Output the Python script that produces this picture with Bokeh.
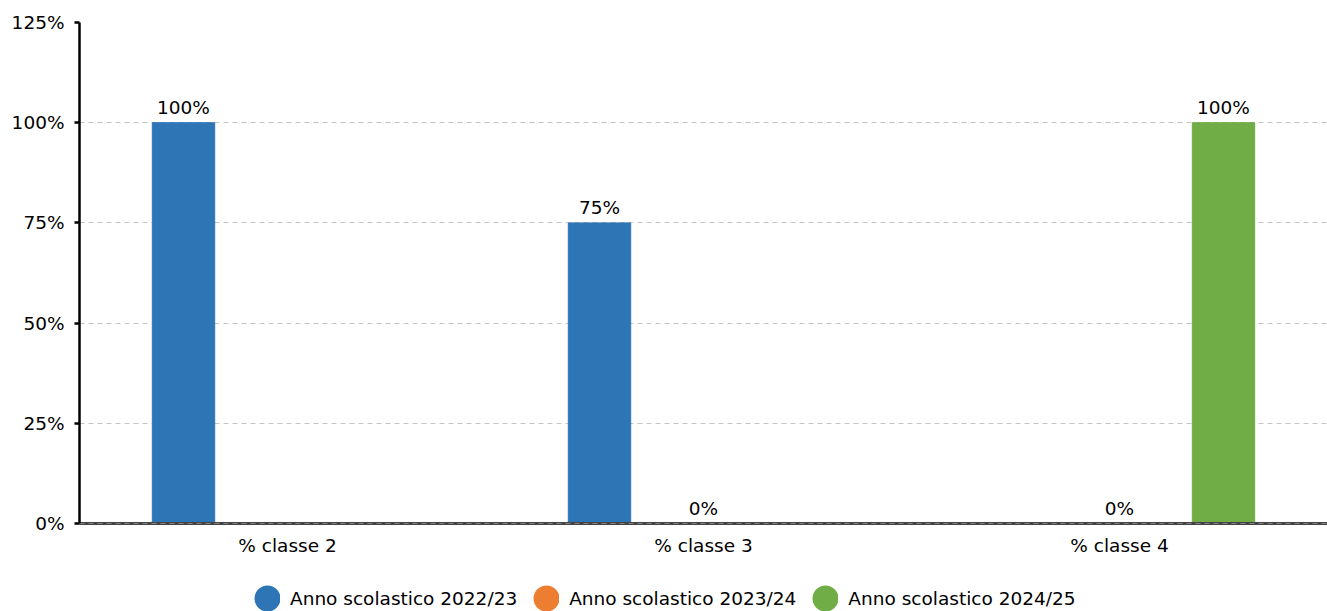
from bokeh.plotting import figure
from bokeh.layouts import column
from bokeh.models import (ColumnDataSource, FactorRange, Range1d, FixedTicker,
                          PrintfTickFormatter, LabelSet, Legend, LegendItem, Span)
from bokeh.core.properties import value
from bokeh.transform import dodge
from bokeh.embed import file_html
from bokeh.resources import INLINE

# ---- data -------------------------------------------------------------
categories = ["% classe 2", "% classe 3", "% classe 4"]
series_names = ["Anno scolastico 2022/23", "Anno scolastico 2023/24", "Anno scolastico 2024/25"]
values_2022_23 = [100, 75, None]
values_2023_24 = [None, 0, 0]
values_2024_25 = [None, None, 100]
series_colors = ["#2E75B6", "#ED7D31", "#70AD47"]
y_ticks = [0, 25, 50, 75, 100, 125]

series_values = [values_2022_23, values_2023_24, values_2024_25]
offsets = [-0.25, 0.0, 0.25]
BAR_WIDTH = 0.15

FONT = "DejaVu Sans"
FONT_SIZE = "18.5px"

p = figure(
    x_range=FactorRange(factors=categories),
    y_range=Range1d(0, 125),
    width=1327, height=566,
    output_backend="svg", toolbar_location=None,
    min_border_left=79, min_border_right=0, min_border_top=22, min_border_bottom=43,
    outline_line_color=None,
)

# axes
p.yaxis.ticker = FixedTicker(ticks=y_ticks)
p.yaxis.formatter = PrintfTickFormatter(format="%d%%")
p.yaxis.axis_line_color = "black"
p.yaxis.axis_line_width = 2.5
p.yaxis.major_tick_line_color = "black"
p.yaxis.major_tick_line_width = 2.5
p.yaxis.major_tick_out = 5
p.yaxis.major_tick_in = 0
p.yaxis.minor_tick_line_color = None
p.yaxis.major_label_standoff = 10
p.yaxis.major_label_text_font = FONT
p.yaxis.major_label_text_font_size = FONT_SIZE
p.yaxis.major_label_text_color = "black"

p.xaxis.axis_line_color = "#444444"
p.xaxis.axis_line_width = 3
p.xaxis.major_tick_line_color = None
p.xaxis.major_tick_out = 0
p.xaxis.major_tick_in = 0
p.xaxis.minor_tick_line_color = None
p.xaxis.major_label_standoff = 11
p.xaxis.major_label_text_font = FONT
p.xaxis.major_label_text_font_size = FONT_SIZE
p.xaxis.major_label_text_color = "black"

p.xgrid.grid_line_color = None
p.ygrid.grid_line_color = "#c4c4c4"
p.ygrid.grid_line_dash = "5 4"
p.ygrid.grid_line_width = 1

for name, vals, color, off in zip(series_names, series_values, series_colors, offsets):
    xs = [c for c, v in zip(categories, vals) if v is not None]
    ys = [v for v in vals if v is not None]
    src = ColumnDataSource(dict(x=xs, top=ys, label=[f"{v}%" for v in ys]))
    p.vbar(x=dodge("x", off, range=p.x_range), top="top", width=BAR_WIDTH,
           source=src, fill_color=color, line_color=color, line_width=1)
    p.add_layout(LabelSet(x=dodge("x", off, range=p.x_range), y="top", text="label",
                          source=src, text_align="center", text_baseline="bottom",
                          y_offset=5, text_font=value(FONT),
                          text_font_size=value(FONT_SIZE), text_color="black"))

# dashed zero line drawn over the bars
p.add_layout(Span(location=0, dimension="width", line_color="#c4c4c4",
                  line_dash="5 4", line_width=1, level="overlay"))

# ---- legend strip under the chart ------------------------------------
leg = figure(
    width=1327, height=45, x_range=Range1d(0, 1), y_range=Range1d(0, 1),
    x_axis_type=None, y_axis_type=None,
    output_backend="svg", toolbar_location=None,
    min_border=0, outline_line_color=None,
)
leg.grid.grid_line_color = None

legend_items = []
for name, color in zip(series_names, series_colors):
    # round swatch; y is NaN so only the legend shows it
    marker = leg.scatter(x=[0.5], y=[float("nan")], marker="circle", size=10,
                         fill_color=color, line_color=color, line_width=15.6)
    legend_items.append(LegendItem(label=name, renderers=[marker]))

legend = Legend(items=legend_items, orientation="horizontal", location=(175, 0),
                glyph_width=26, glyph_height=26, label_standoff=10, spacing=16,
                label_text_font=FONT, label_text_font_size=FONT_SIZE,
                label_text_color="black", border_line_color=None,
                background_fill_alpha=0, padding=0, margin=0)
leg.add_layout(legend)

layout = column(p, leg, spacing=0)

open("out.html", "w").write(file_html(layout, INLINE))
